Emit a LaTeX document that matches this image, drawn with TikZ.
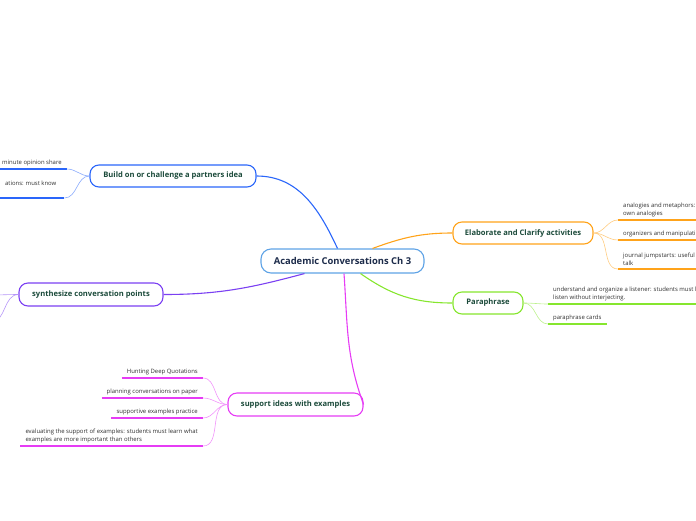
\documentclass[tikz,border=0pt]{standalone}
\usepackage{fontspec}
\setmainfont{Open Sans}
\definecolor{cenblue}{HTML}{5FA3E6}
\definecolor{centext}{HTML}{1C2B4A}
\definecolor{topictext}{HTML}{1B4A3A}
\definecolor{leaftext}{HTML}{2E2E2E}
\definecolor{mapblue}{HTML}{2A66FA}
\definecolor{maporange}{HTML}{FFA31A}
\definecolor{mapgreen}{HTML}{86E62E}
\definecolor{mappurple}{HTML}{7B40F2}
\definecolor{mapmagenta}{HTML}{E63CF5}

\begin{document}
\begin{tikzpicture}[x=1pt,y=1pt,
  topic/.style={draw=#1,line width=1.1pt,fill=white,rounded corners=9pt,minimum height=22pt,inner xsep=4pt,text=topictext,font=\fontsize{7.6}{9}\selectfont\bfseries},
  leaf/.style={font=\fontsize{5.95}{8.2}\selectfont,text=leaftext,inner xsep=5pt,inner ysep=3pt,align=left,append after command={(\tikzlastnode.south west) edge[draw=#1,line width=1.6pt] (\tikzlastnode.south east)}},
  twig/.style={draw=#1!55,line width=.6pt},
  limb/.style={draw=#1,line width=1.1pt}]
\useasboundingbox (0,0) rectangle (696,-520);
\clip (0,0) rectangle (696,-520);

\node[draw=cenblue,line width=1.1pt,fill=white,rounded corners=10pt,minimum width=163pt,minimum height=24pt,text=centext,font=\fontsize{9.4}{11}\selectfont\bfseries] (cen) at (342.5,-261) {Academic Conversations Ch 3};

\node[topic=mapblue,minimum width=166pt] (build) at (173,-176) {Build on or challenge a partners idea};
\node[topic=mappurple,minimum width=144pt,minimum height=23pt] (synth) at (91,-294.5) {synthesize conversation points};
\node[topic=maporange,minimum width=140pt] (elab) at (523,-233) {Elaborate and Clarify activities};
\node[topic=mapgreen,minimum width=70pt] (para) at (488,-303) {Paraphrase};
\node[topic=mapmagenta,minimum width=135pt,minimum height=23pt] (supp) at (295.5,-404.5) {support ideas with examples};

\draw[limb=mapblue] (build.east) to[out=0,in=115] ([xshift=-5pt]cen.north);
\draw[limb=maporange] ([xshift=30pt]cen.north) to[out=20,in=180] (elab.west);
\draw[limb=mapgreen] ([xshift=18pt]cen.south) to[out=-35,in=180] (para.west);
\draw[limb=mappurple] ([xshift=-38pt]cen.south) to[out=-165,in=0] (synth.east);
\draw[limb=mapmagenta] ([xshift=1.5pt]cen.south) to[out=-86,in=110] (supp.east);

\node[leaf=mapblue,anchor=south west,minimum width=67pt] (b1) at (-3,-169) {minute opinion share};
\node[leaf=mapblue,anchor=south west,minimum width=67pt,text depth=9pt] (b2) at (-3,-198) {ations: must know};
\draw[twig=mapblue] (build.west) to[out=180,in=0] (b1.south east);
\draw[twig=mapblue] (build.west) to[out=180,in=0] (b2.south east);

\coordinate (s1) at (-9,-295);
\coordinate (s2) at (-9,-322);
\draw[twig=mappurple] (synth.west) to[out=180,in=0] (s1);
\draw[twig=mappurple] (synth.west) to[out=180,in=0] (s2);

\node[leaf=maporange,anchor=south west] (e1) at (618,-220) {analogies and metaphors:\\own analogies};
\node[leaf=maporange,anchor=south west] (e2) at (618,-240) {organizers and manipulati};
\node[leaf=maporange,anchor=south west] (e3) at (618,-269) {journal jumpstarts: useful\\talk};
\draw[twig=maporange] (elab.east) to[out=0,in=180] (e1.south west);
\draw[twig=maporange] (elab.east) to[out=0,in=180] (e2.south west);
\draw[twig=maporange] (elab.east) to[out=0,in=180] (e3.south west);

\node[leaf=mapgreen,anchor=south west] (p1) at (548,-304) {understand and organize a listener: students must l\\listen without interjecting.};
\node[leaf=mapgreen,anchor=south west] (p2) at (548,-324) {paraphrase cards};
\draw[twig=mapgreen] (para.east) to[out=0,in=180] (p1.south west);
\draw[twig=mapgreen] (para.east) to[out=0,in=180] (p2.south west);

\node[leaf=mapmagenta,anchor=south east] (x1) at (203,-378) {Hunting Deep Quotations};
\node[leaf=mapmagenta,anchor=south east] (x2) at (203,-398) {planning conversations on paper};
\node[leaf=mapmagenta,anchor=south east] (x3) at (203,-418) {supportive examples practice};
\node[leaf=mapmagenta,anchor=south east] (x4) at (203,-446) {evaluating the support of examples: students must learn what\\examples are more important than others};
\draw[twig=mapmagenta] (supp.west) to[out=180,in=0] (x1.south east);
\draw[twig=mapmagenta] (supp.west) to[out=180,in=0] (x2.south east);
\draw[twig=mapmagenta] (supp.west) to[out=180,in=0] (x3.south east);
\draw[twig=mapmagenta] (supp.west) to[out=180,in=0] (x4.south east);
\end{tikzpicture}
\end{document}
